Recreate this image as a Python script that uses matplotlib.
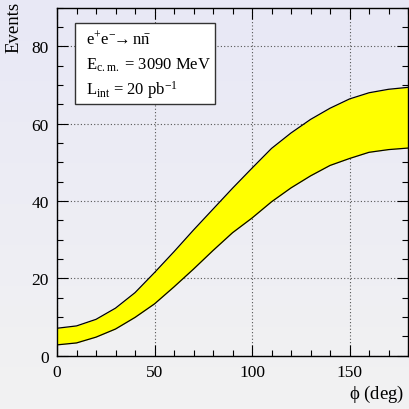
import numpy as np
import matplotlib
matplotlib.use("Agg")
import matplotlib.pyplot as plt
from matplotlib.colors import LinearSegmentedColormap
from matplotlib.ticker import MultipleLocator

plt.rcParams['font.family'] = ['Liberation Serif', 'DejaVu Serif']
plt.rcParams['mathtext.fontset'] = 'custom'
plt.rcParams['mathtext.rm'] = 'Liberation Serif'
plt.rcParams['mathtext.it'] = 'Liberation Serif:italic'

# band, every 10 degrees
phi = [0, 10, 20, 30, 40, 50, 60, 70, 80, 90,
       100, 110, 120, 130, 140, 150, 160, 170, 180]
upper = [7.1, 7.7, 9.4, 12.3, 16.3, 21.5, 26.9, 32.5, 37.9, 43.3,
         48.5, 53.6, 57.6, 61.1, 64.0, 66.4, 68.0, 68.9, 69.4]
lower = [2.8, 3.3, 4.8, 6.9, 9.9, 13.4, 17.8, 22.4, 27.2, 31.8,
         35.6, 39.8, 43.4, 46.5, 49.2, 51.0, 52.6, 53.3, 53.7]

legend_lines = [r'$\mathrm{e^{+}e^{-}\!\!\rightarrow n\bar{n}}$',
                r'$\mathrm{E_{c.m.}}$ = 3090 MeV',
                r'$\mathrm{L_{int}}$ = 20 pb$^{\mathrm{-1}}$']

fig = plt.figure(figsize=(4.09, 4.10), dpi=100)

# gradient background over the whole canvas
bg = fig.add_axes([0, 0, 1, 1], zorder=-10)
cmap = LinearSegmentedColormap.from_list('bg', ['#f2f2f2', '#e8e8f6'])
bg.imshow(np.linspace(0, 1, 256).reshape(-1, 1), aspect='auto', cmap=cmap,
          origin='lower', extent=[0, 1, 0, 1])
bg.axis('off')

ax = fig.add_axes([57 / 409, 1 - 356.7 / 410, 351 / 409, 348 / 410])
ax.patch.set_alpha(0)

ax.fill_between(phi, lower, upper, color='#ffff00', lw=0, zorder=2)
ax.plot(phi, upper, color='black', lw=0.9, zorder=3)
ax.plot(phi, lower, color='black', lw=0.9, zorder=3)

ax.set_xlim(0, 180)
ax.set_ylim(0, 90)
ax.xaxis.set_major_locator(MultipleLocator(50))
ax.xaxis.set_minor_locator(MultipleLocator(10))
ax.yaxis.set_major_locator(MultipleLocator(20))
ax.yaxis.set_minor_locator(MultipleLocator(5))
ax.tick_params(which='both', direction='in', top=True, right=True,
               labelsize=12.5, color='black')
ax.tick_params(which='major', length=8, width=0.8, pad=6)
ax.tick_params(which='minor', length=4, width=0.8)
ax.grid(True, which='major', color='#555555', linestyle=(0, (1, 2)), lw=0.8)
ax.set_axisbelow(True)
for s in ax.spines.values():
    s.set_linewidth(1.0)

fig.text(14 / 409, 1 - 2 / 410, 'Events', rotation=90, fontsize=13.5,
         ha='center', va='top')
fig.text(404 / 409, 1 - 394 / 410, r'$\mathrm{\phi}$ (deg)',
         fontsize=13.5, ha='right', va='center')

# legend box
box_x0, box_y0 = (75 - 57) / 351, (356.7 - 105) / 348
box_w, box_h = (215 - 75) / 351, (105 - 24) / 348
ax.add_patch(plt.Rectangle((box_x0, box_y0), box_w, box_h, transform=ax.transAxes,
                           facecolor='white', edgecolor='#333333', lw=1.0, zorder=5))
for i, t in enumerate(legend_lines):
    ax.text(box_x0 + 0.03, box_y0 + box_h - 0.045 - i * 0.073, t,
            transform=ax.transAxes, fontsize=12, va='center', ha='left', zorder=6)

fig.savefig('out.png', dpi=100)
